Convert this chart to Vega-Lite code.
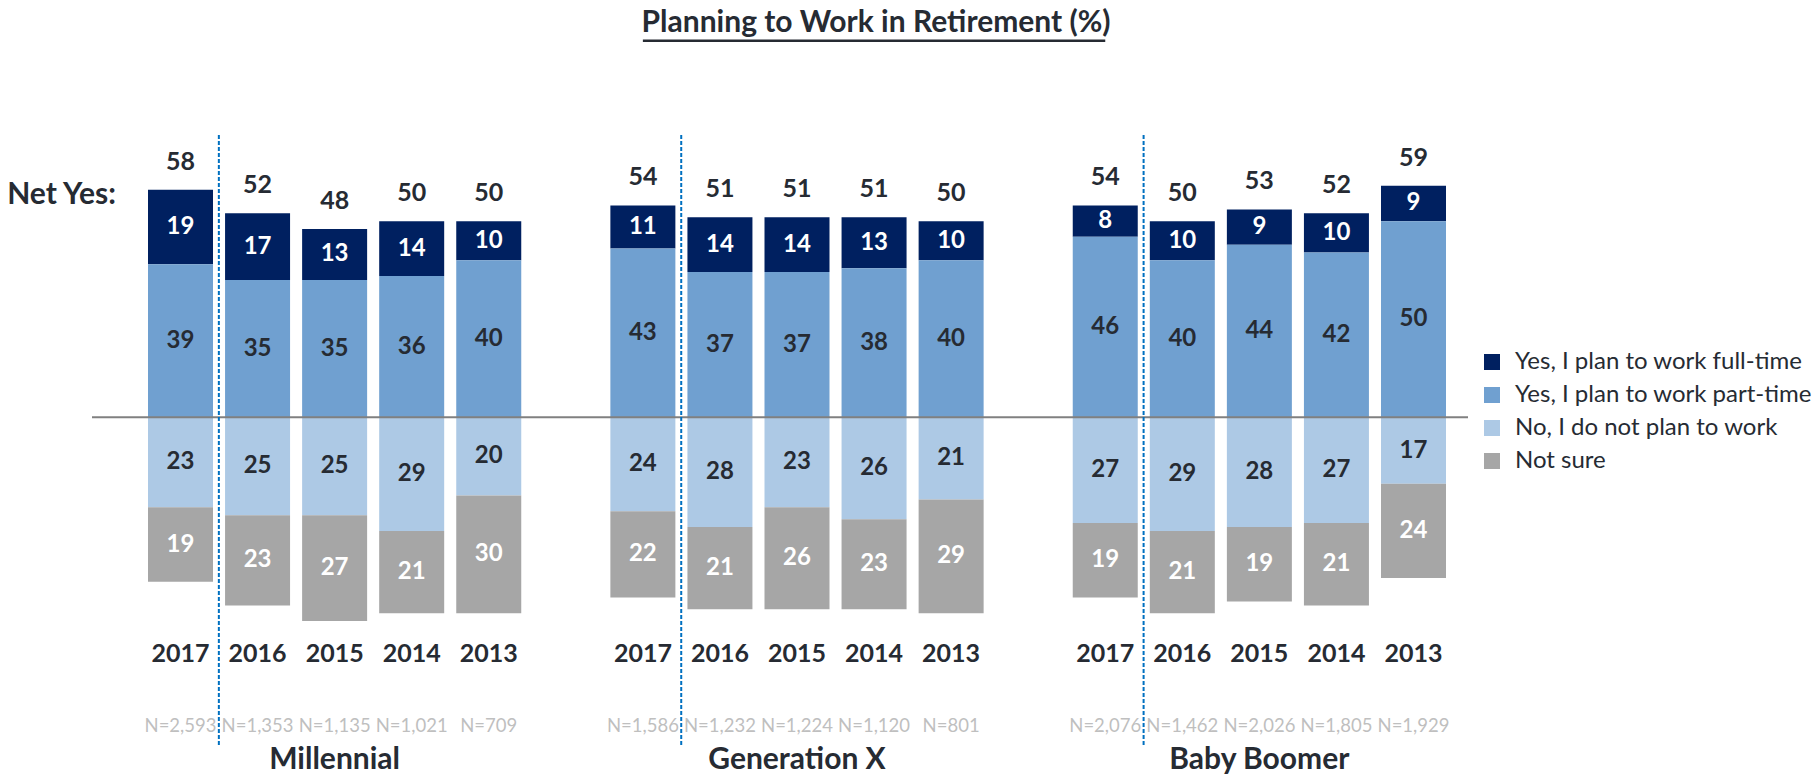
{
  "$schema": "https://vega.github.io/schema/vega-lite/v6.json",
  "autosize": {"type": "none"},
  "width": 1376,
  "height": 774,
  "padding": {"left": 92, "right": 345, "top": 0, "bottom": 0},
  "background": "white",
  "config": {"view": {"stroke": null}, "font": "Lato"},
  "datasets": {
    "seg": [
      {"key": "M2017", "cat": "Yes, I plan to work full-time", "ord": 2, "value": 19, "label": "19"},
      {"key": "M2017", "cat": "Yes, I plan to work part-time", "ord": 1, "value": 39, "label": "39"},
      {"key": "M2017", "cat": "No, I do not plan to work", "ord": 1, "value": -23, "label": "23"},
      {"key": "M2017", "cat": "Not sure", "ord": 2, "value": -19, "label": "19"},
      {"key": "M2016", "cat": "Yes, I plan to work full-time", "ord": 2, "value": 17, "label": "17"},
      {"key": "M2016", "cat": "Yes, I plan to work part-time", "ord": 1, "value": 35, "label": "35"},
      {"key": "M2016", "cat": "No, I do not plan to work", "ord": 1, "value": -25, "label": "25"},
      {"key": "M2016", "cat": "Not sure", "ord": 2, "value": -23, "label": "23"},
      {"key": "M2015", "cat": "Yes, I plan to work full-time", "ord": 2, "value": 13, "label": "13"},
      {"key": "M2015", "cat": "Yes, I plan to work part-time", "ord": 1, "value": 35, "label": "35"},
      {"key": "M2015", "cat": "No, I do not plan to work", "ord": 1, "value": -25, "label": "25"},
      {"key": "M2015", "cat": "Not sure", "ord": 2, "value": -27, "label": "27"},
      {"key": "M2014", "cat": "Yes, I plan to work full-time", "ord": 2, "value": 14, "label": "14"},
      {"key": "M2014", "cat": "Yes, I plan to work part-time", "ord": 1, "value": 36, "label": "36"},
      {"key": "M2014", "cat": "No, I do not plan to work", "ord": 1, "value": -29, "label": "29"},
      {"key": "M2014", "cat": "Not sure", "ord": 2, "value": -21, "label": "21"},
      {"key": "M2013", "cat": "Yes, I plan to work full-time", "ord": 2, "value": 10, "label": "10"},
      {"key": "M2013", "cat": "Yes, I plan to work part-time", "ord": 1, "value": 40, "label": "40"},
      {"key": "M2013", "cat": "No, I do not plan to work", "ord": 1, "value": -20, "label": "20"},
      {"key": "M2013", "cat": "Not sure", "ord": 2, "value": -30, "label": "30"},
      {"key": "G2017", "cat": "Yes, I plan to work full-time", "ord": 2, "value": 11, "label": "11"},
      {"key": "G2017", "cat": "Yes, I plan to work part-time", "ord": 1, "value": 43, "label": "43"},
      {"key": "G2017", "cat": "No, I do not plan to work", "ord": 1, "value": -24, "label": "24"},
      {"key": "G2017", "cat": "Not sure", "ord": 2, "value": -22, "label": "22"},
      {"key": "G2016", "cat": "Yes, I plan to work full-time", "ord": 2, "value": 14, "label": "14"},
      {"key": "G2016", "cat": "Yes, I plan to work part-time", "ord": 1, "value": 37, "label": "37"},
      {"key": "G2016", "cat": "No, I do not plan to work", "ord": 1, "value": -28, "label": "28"},
      {"key": "G2016", "cat": "Not sure", "ord": 2, "value": -21, "label": "21"},
      {"key": "G2015", "cat": "Yes, I plan to work full-time", "ord": 2, "value": 14, "label": "14"},
      {"key": "G2015", "cat": "Yes, I plan to work part-time", "ord": 1, "value": 37, "label": "37"},
      {"key": "G2015", "cat": "No, I do not plan to work", "ord": 1, "value": -23, "label": "23"},
      {"key": "G2015", "cat": "Not sure", "ord": 2, "value": -26, "label": "26"},
      {"key": "G2014", "cat": "Yes, I plan to work full-time", "ord": 2, "value": 13, "label": "13"},
      {"key": "G2014", "cat": "Yes, I plan to work part-time", "ord": 1, "value": 38, "label": "38"},
      {"key": "G2014", "cat": "No, I do not plan to work", "ord": 1, "value": -26, "label": "26"},
      {"key": "G2014", "cat": "Not sure", "ord": 2, "value": -23, "label": "23"},
      {"key": "G2013", "cat": "Yes, I plan to work full-time", "ord": 2, "value": 10, "label": "10"},
      {"key": "G2013", "cat": "Yes, I plan to work part-time", "ord": 1, "value": 40, "label": "40"},
      {"key": "G2013", "cat": "No, I do not plan to work", "ord": 1, "value": -21, "label": "21"},
      {"key": "G2013", "cat": "Not sure", "ord": 2, "value": -29, "label": "29"},
      {"key": "B2017", "cat": "Yes, I plan to work full-time", "ord": 2, "value": 8, "label": "8"},
      {"key": "B2017", "cat": "Yes, I plan to work part-time", "ord": 1, "value": 46, "label": "46"},
      {"key": "B2017", "cat": "No, I do not plan to work", "ord": 1, "value": -27, "label": "27"},
      {"key": "B2017", "cat": "Not sure", "ord": 2, "value": -19, "label": "19"},
      {"key": "B2016", "cat": "Yes, I plan to work full-time", "ord": 2, "value": 10, "label": "10"},
      {"key": "B2016", "cat": "Yes, I plan to work part-time", "ord": 1, "value": 40, "label": "40"},
      {"key": "B2016", "cat": "No, I do not plan to work", "ord": 1, "value": -29, "label": "29"},
      {"key": "B2016", "cat": "Not sure", "ord": 2, "value": -21, "label": "21"},
      {"key": "B2015", "cat": "Yes, I plan to work full-time", "ord": 2, "value": 9, "label": "9"},
      {"key": "B2015", "cat": "Yes, I plan to work part-time", "ord": 1, "value": 44, "label": "44"},
      {"key": "B2015", "cat": "No, I do not plan to work", "ord": 1, "value": -28, "label": "28"},
      {"key": "B2015", "cat": "Not sure", "ord": 2, "value": -19, "label": "19"},
      {"key": "B2014", "cat": "Yes, I plan to work full-time", "ord": 2, "value": 10, "label": "10"},
      {"key": "B2014", "cat": "Yes, I plan to work part-time", "ord": 1, "value": 42, "label": "42"},
      {"key": "B2014", "cat": "No, I do not plan to work", "ord": 1, "value": -27, "label": "27"},
      {"key": "B2014", "cat": "Not sure", "ord": 2, "value": -21, "label": "21"},
      {"key": "B2013", "cat": "Yes, I plan to work full-time", "ord": 2, "value": 9, "label": "9"},
      {"key": "B2013", "cat": "Yes, I plan to work part-time", "ord": 1, "value": 50, "label": "50"},
      {"key": "B2013", "cat": "No, I do not plan to work", "ord": 1, "value": -17, "label": "17"},
      {"key": "B2013", "cat": "Not sure", "ord": 2, "value": -24, "label": "24"}
    ],
    "cols": [
      {"key": "M2017", "year": "2017", "net": 58, "n": "N=2,593"},
      {"key": "M2016", "year": "2016", "net": 52, "n": "N=1,353"},
      {"key": "M2015", "year": "2015", "net": 48, "n": "N=1,135"},
      {"key": "M2014", "year": "2014", "net": 50, "n": "N=1,021"},
      {"key": "M2013", "year": "2013", "net": 50, "n": "N=709"},
      {"key": "G2017", "year": "2017", "net": 54, "n": "N=1,586"},
      {"key": "G2016", "year": "2016", "net": 51, "n": "N=1,232"},
      {"key": "G2015", "year": "2015", "net": 51, "n": "N=1,224"},
      {"key": "G2014", "year": "2014", "net": 51, "n": "N=1,120"},
      {"key": "G2013", "year": "2013", "net": 50, "n": "N=801"},
      {"key": "B2017", "year": "2017", "net": 54, "n": "N=2,076"},
      {"key": "B2016", "year": "2016", "net": 50, "n": "N=1,462"},
      {"key": "B2015", "year": "2015", "net": 53, "n": "N=2,026"},
      {"key": "B2014", "year": "2014", "net": 52, "n": "N=1,805"},
      {"key": "B2013", "year": "2013", "net": 59, "n": "N=1,929"}
    ],
    "groups": [
      {"key": "M2015", "name": "Millennial"},
      {"key": "G2015", "name": "Generation X"},
      {"key": "B2015", "name": "Baby Boomer"}
    ],
    "seps": [{"key": "M2017"}, {"key": "G2017"}, {"key": "B2017"}]
  },
  "resolve": {"scale": {"color": "shared"}},
  "encoding": {
    "x": {
      "field": "key",
      "type": "nominal",
      "axis": null,
      "scale": {
        "domain": ["M2017", "M2016", "M2015", "M2014", "M2013", "gap1", "G2017", "G2016", "G2015", "G2014", "G2013", "gap2", "B2017", "B2016", "B2015", "B2014", "B2013"],
        "range": [56, 1354],
        "paddingInner": 0.1565,
        "paddingOuter": 0
      }
    }
  },
  "layer": [
    {
      "data": {"name": "seg_src", "values": []},
      "mark": {"type": "bar", "opacity": 0},
      "encoding": {"y": {"datum": 0, "type": "quantitative", "axis": null, "scale": {"domain": [-91, 106.4], "nice": false, "zero": false}}}
    },
    {
      "data": {"name": "seg"},
      "mark": {"type": "bar"},
      "encoding": {
        "y": {"field": "value", "type": "quantitative", "stack": "zero"},
        "order": {"field": "ord", "type": "quantitative"},
        "color": {
          "field": "cat",
          "type": "nominal",
          "scale": {
            "domain": ["Yes, I plan to work full-time", "Yes, I plan to work part-time", "No, I do not plan to work", "Not sure"],
            "range": ["#002060", "#70a0d0", "#adc9e5", "#a6a6a6"]
          },
          "legend": {
            "title": null,
            "orient": "none",
            "legendX": 1388,
            "legendY": 350,
            "symbolType": "square",
            "symbolSize": 256,
            "symbolStrokeWidth": 0,
            "labelFont": "Lato",
            "labelFontSize": 24,
            "labelColor": "#262b33",
            "labelOffset": 11,
            "rowPadding": 9,
            "labelLimit": 400,
            "padding": 0
          }
        }
      }
    },
    {
      "data": {"name": "seg"},
      "mark": {"type": "text", "font": "Lato", "fontWeight": "bold", "fontSize": 24, "baseline": "middle"},
      "encoding": {
        "y": {"field": "value", "type": "quantitative", "stack": "zero", "bandPosition": 0.5},
        "order": {"field": "ord", "type": "quantitative"},
        "detail": {"field": "cat"},
        "text": {"field": "label"},
        "color": {
          "condition": {"test": "datum.cat === 'Yes, I plan to work full-time' || datum.cat === 'Not sure'", "value": "#ffffff"},
          "value": "#262b33"
        }
      }
    },
    {
      "data": {"values": [{"z": 0}]},
      "mark": {"type": "rule", "color": "#808080", "strokeWidth": 2},
      "encoding": {"x": null, "y": {"field": "z", "type": "quantitative"}}
    },
    {
      "data": {"name": "seps"},
      "mark": {"type": "rule", "color": "#0070c0", "strokeWidth": 2, "strokeDash": [4, 2]},
      "encoding": {
        "x": {"field": "key", "type": "nominal", "bandPosition": 1.09},
        "y": {"datum": 72, "type": "quantitative"},
        "y2": {"datum": -83.6}
      }
    },
    {
      "data": {"name": "cols"},
      "mark": {"type": "text", "font": "Lato", "fontWeight": "bold", "fontSize": 25, "color": "#262b33", "baseline": "middle", "dy": -28},
      "encoding": {"y": {"field": "net", "type": "quantitative"}, "text": {"field": "net"}}
    },
    {
      "data": {"name": "cols"},
      "mark": {"type": "text", "font": "Lato", "fontWeight": "bold", "fontSize": 25, "color": "#262b33", "baseline": "middle"},
      "encoding": {"y": {"datum": -60.4, "type": "quantitative"}, "text": {"field": "year"}}
    },
    {
      "data": {"name": "cols"},
      "mark": {"type": "text", "font": "Lato", "fontSize": 18.5, "color": "#bfbfbf", "baseline": "middle"},
      "encoding": {"y": {"datum": -78.7, "type": "quantitative"}, "text": {"field": "n"}}
    },
    {
      "data": {"name": "groups"},
      "mark": {"type": "text", "font": "Lato", "fontWeight": "bold", "fontSize": 30, "color": "#262b33", "baseline": "middle"},
      "encoding": {"y": {"datum": -87.4, "type": "quantitative"}, "text": {"field": "name"}}
    },
    {
      "data": {"values": [{"key": "M2017", "t": "Net Yes:"}]},
      "mark": {"type": "text", "font": "Lato", "fontWeight": "bold", "fontSize": 30, "color": "#262b33", "baseline": "middle", "dx": -119},
      "encoding": {"y": {"datum": 56.6, "type": "quantitative"}, "text": {"field": "t"}}
    },
    {
      "data": {"values": [{"key": "G2014", "t": "Planning to Work in Retirement (%)"}]},
      "mark": {"type": "text", "font": "Lato", "fontWeight": "bold", "fontSize": 30, "color": "#262b33", "baseline": "middle", "dx": 2},
      "encoding": {"y": {"datum": 100.6, "type": "quantitative"}, "text": {"field": "t"}}
    },
    {
      "data": {"values": [{"a": "G2017", "b": "B2017"}]},
      "mark": {"type": "rule", "color": "#262b33", "strokeWidth": 2.5},
      "encoding": {
        "x": {"field": "a", "type": "nominal"},
        "x2": {"field": "b"},
        "y": {"datum": 96.0, "type": "quantitative"}
      }
    }
  ]
}
